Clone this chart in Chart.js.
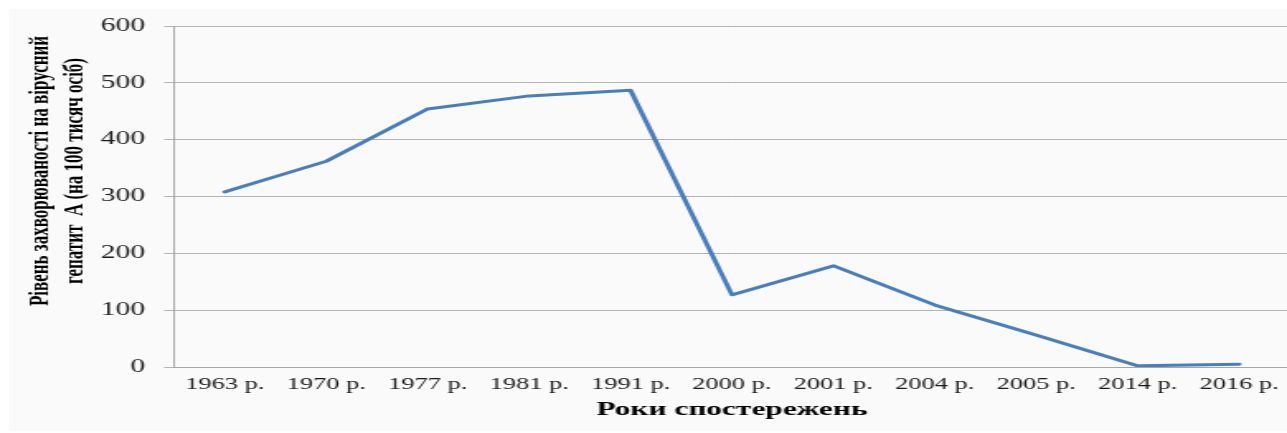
<!DOCTYPE html>
<html>
<head>
<meta charset="utf-8">
<script src="https://cdn.jsdelivr.net/npm/chart.js@4.4.1/dist/chart.umd.min.js"></script>
<style>
  html, body { margin: 0; padding: 0; background: #fff; overflow: hidden; }
  #bg { position: absolute; left: 9px; top: 9px; width: 1278px; height: 422px; background: #fafafa; }
  /* the source picture is stretched sideways, so the whole chart is too */
  #wrap { position: absolute; left: 0; top: 0; width: 783px; height: 433px; transform: scaleX(1.65); transform-origin: 0 0; }
</style>
</head>
<body>
<div id="bg"></div>
<div id="wrap"><canvas id="chart" width="783" height="433"></canvas></div>
<script>
const years = ["1963 р.", "1970 р.", "1977 р.", "1981 р.", "1991 р.", "2000 р.", "2001 р.", "2004 р.", "2005 р.", "2014 р.", "2016 р."];
const incidence = [308, 362, 454, 477, 487, 127, 178, 109, 56, 2, 5];
const yTicks = [0, 100, 200, 300, 400, 500, 600];
const yTitle = ["Рівень захворюваності на вірусний", "гепатит  А (на 100 тисяч осіб)"];
const xTitle = "Роки спостережень";

const serif = '"Liberation Serif", "Times New Roman", serif';

// y title drawn by hand so it can sit a bit above the plot's middle, like the original
const yTitlePlugin = {
  id: "yTitle",
  afterDraw(chart) {
    const ctx = chart.ctx;
    ctx.save();
    ctx.font = "bold 17px " + serif;
    ctx.fillStyle = "#000";
    ctx.textAlign = "center";
    ctx.textBaseline = "alphabetic";
    const baselines = [29, 50];
    yTitle.forEach((line, i) => {
      ctx.save();
      ctx.translate(baselines[i], 171);
      ctx.rotate(-Math.PI / 2);
      ctx.fillText(line, 0, 0);
      ctx.restore();
    });
    ctx.restore();
  }
};

new Chart(document.getElementById("chart"), {
  type: "line",
  data: {
    labels: years,
    datasets: [{
      data: incidence,
      borderColor: "#4a7ebb",
      borderWidth: 3,
      borderJoinStyle: "round",
      borderCapStyle: "round",
      pointRadius: 0,
      tension: 0,
      fill: false,
    }],
  },
  options: {
    responsive: false,
    animation: false,
    devicePixelRatio: 1,
    layout: { padding: { top: 26, right: 0, bottom: 12, left: 0 } },
    plugins: {
      legend: { display: false },
      tooltip: { enabled: false },
    },
    scales: {
      x: {
        offset: true,
        grid: { display: false, drawTicks: false, tickLength: 0 },
        border: { display: true, color: "#a6a6a6", width: 1 },
        afterFit: (scale) => { scale.height = 54; },
        ticks: {
          color: "#1a1a1a",
          font: { family: serif, size: 16 },
          padding: 8,
          autoSkip: false,
          maxRotation: 0,
        },
        title: {
          display: true,
          text: xTitle,
          color: "#000",
          font: { family: serif, size: 19, weight: "bold" },
          padding: { top: 4, bottom: 0 },
        },
      },
      y: {
        min: 0,
        max: 600,
        afterBuildTicks: (scale) => { scale.ticks = yTicks.map((v) => ({ value: v })); },
        afterFit: (scale) => { scale.width = 105.5; },
        grid: { color: "#b3b3b3", lineWidth: 1, tickLength: 6 },
        border: { display: true, color: "#a6a6a6", width: 1 },
        ticks: {
          color: "#1a1a1a",
          font: { family: serif, size: 18 },
          padding: 11.5,
        },
      },
    },
  },
  plugins: [yTitlePlugin],
});
</script>
</body>
</html>
